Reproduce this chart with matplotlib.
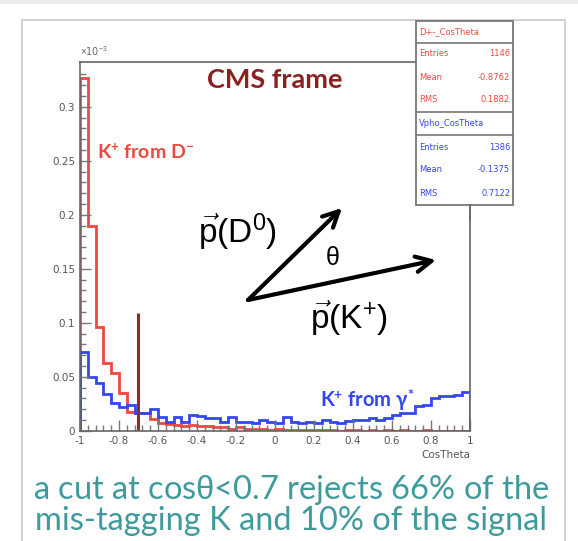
import numpy as np
import matplotlib
matplotlib.use("Agg")
import matplotlib.pyplot as plt
from matplotlib.patches import Rectangle
from matplotlib.lines import Line2D

plt.rcParams['mathtext.fontset'] = 'custom'
plt.rcParams['mathtext.rm'] = 'Liberation Sans'
plt.rcParams['mathtext.it'] = 'Liberation Sans:italic'
plt.rcParams['mathtext.bf'] = 'Lato:bold'

# ---- data (normalised histograms, 50 bins on [-1, 1]) ----
bin_edges = np.linspace(-1.0, 1.0, 51)
kaon_from_D = [0.327, 0.190, 0.096, 0.063, 0.053, 0.035, 0.017, 0.016, 0.016, 0.011,
               0.007, 0.006, 0.005, 0.004, 0.005, 0.004, 0.004, 0.003, 0.003, 0.002,
               0.003, 0.002, 0.002, 0.002, 0.001, 0.002, 0.001, 0.001, 0.001, 0.001,
               0.001, 0.001, 0.001, 0.000, 0.001, 0.001, 0.000, 0.001, 0.000, 0.001,
               0.000, 0.001, 0.000, 0.000, 0.001, 0.000, 0.000, 0.000, 0.000, 0.000]
kaon_from_gamma = [0.073, 0.050, 0.044, 0.034, 0.026, 0.022, 0.024, 0.016, 0.016, 0.020,
                   0.013, 0.008, 0.013, 0.008, 0.015, 0.014, 0.012, 0.012, 0.008, 0.013,
                   0.008, 0.008, 0.007, 0.010, 0.008, 0.007, 0.013, 0.008, 0.007, 0.008,
                   0.007, 0.010, 0.008, 0.007, 0.009, 0.010, 0.010, 0.012, 0.010, 0.012,
                   0.015, 0.016, 0.016, 0.023, 0.024, 0.030, 0.032, 0.032, 0.033, 0.036]
cut_value = -0.7
cut_height = 0.109
x_ticks = [-1, -0.8, -0.6, -0.4, -0.2, 0, 0.2, 0.4, 0.6, 0.8, 1]
x_tick_labels = ['-1', '-0.8', '-0.6', '-0.4', '-0.2', '0', '0.2', '0.4', '0.6', '0.8', '1']
y_ticks = [0, 0.05, 0.1, 0.15, 0.2, 0.25, 0.3]
y_tick_labels = ['0', '0.05', '0.1', '0.15', '0.2', '0.25', '0.3']
stats_red = [('Entries', '1146'), ('Mean', '-0.8762'), ('RMS', '0.1882')]
stats_blue = [('Entries', '1386'), ('Mean', '-0.1375'), ('RMS', '0.7122')]

W, H = 578, 541
fig = plt.figure(figsize=(W / 100, H / 100), dpi=100)
fig.patch.set_facecolor('white')

def fx(px):
    return px / W

def fy(py):
    return 1 - py / H

# outer decoration
fig.patches.append(Rectangle((0, fy(4)), 1, fy(0) - fy(4), transform=fig.transFigure,
                             facecolor='#ececec', edgecolor='none', zorder=0))
fig.patches.append(Rectangle((fx(22), fy(545)), fx(565) - fx(22), fy(20) - fy(545),
                             transform=fig.transFigure, facecolor='none',
                             edgecolor='#c8c8c8', lw=1.2, zorder=0))

ax = fig.add_axes([fx(80), fy(430.7), fx(470) - fx(80), fy(62) - fy(430.7)])
red = '#ec4a3e'
blue = '#3447ee'
ax.stairs(kaon_from_D, bin_edges, color=red, lw=2.0)
ax.stairs(kaon_from_gamma, bin_edges, color=blue, lw=2.0)
ax.vlines(cut_value, 0, cut_height, color='#8e2c2c', lw=2.2)

ax.set_xlim(-1, 1)
ax.set_ylim(0, 0.3415)
ax.set_xticks(x_ticks)
ax.set_xticklabels(x_tick_labels)
ax.set_yticks(y_ticks)
ax.set_yticklabels(y_tick_labels)
ax.set_xticks(np.arange(-1, 1.001, 0.04), minor=True)
ax.set_yticks(np.arange(0, 0.34, 0.01), minor=True)
ax.tick_params(which='both', direction='in', colors='#777777', labelcolor='#555555',
               labelsize=7.5, top=False, right=False)
ax.tick_params(which='major', length=8, width=1)
ax.tick_params(which='minor', length=4, width=1)
for s in ax.spines.values():
    s.set_color('#666666')
    s.set_linewidth(1.2)
ax.text(1.0, -0.065, 'CosTheta', transform=ax.transAxes, ha='right', va='center',
        fontsize=7.5, color='#555555')
ax.text(0.0, 1.01, r'$\times$10$^{-3}$', transform=ax.transAxes, ha='left', va='bottom',
        fontsize=7, color='#666666')

# annotations
fig.text(fx(275), fy(80), 'CMS frame', ha='center', va='center', fontsize=19.5,
         fontweight='bold', color='#8b2222', family='Lato')
fig.text(fx(97), fy(152), r'K$\mathbf{^{+}}$ from D$\mathbf{^{-}}$', ha='left', va='center',
         fontsize=14, fontweight='bold', color=red, family='Lato')
fig.text(fx(320), fy(400), r'K$\mathbf{^{+}}$ from $\mathbf{\gamma^{*}}$', ha='left',
         va='center', fontsize=14.5, fontweight='bold', color=blue, family='Lato')

arrow_kw = dict(arrowstyle='->', lw=3, color='black', mutation_scale=28, shrinkA=0, shrinkB=0)
ax.annotate('', xy=(fx(342), fy(208)), xytext=(fx(248), fy(300)),
            xycoords='figure fraction', textcoords='figure fraction', arrowprops=arrow_kw)
ax.annotate('', xy=(fx(436), fy(260)), xytext=(fx(248), fy(300)),
            xycoords='figure fraction', textcoords='figure fraction', arrowprops=arrow_kw)
fig.text(fx(198), fy(232), r'$\vec{\mathrm{p}}$(D$^{0}$)', ha='left', va='center',
         fontsize=24, color='black', family='Liberation Sans')
fig.text(fx(332), fy(258), r'$\mathrm{\theta}$', ha='center', va='center',
         fontsize=18, color='black', family='DejaVu Sans')
fig.text(fx(310), fy(318), r'$\vec{\mathrm{p}}$(K$^{+}$)', ha='left', va='center',
         fontsize=24, color='black', family='Liberation Sans')

# stats box
bx0, bx1 = 416, 513
rows = [20.7, 42.7, 111.7, 135, 205]
fig.patches.append(Rectangle((fx(bx0), fy(rows[-1])), fx(bx1) - fx(bx0), fy(rows[0]) - fy(rows[-1]),
                             transform=fig.transFigure, facecolor='white',
                             edgecolor='#777777', lw=1.3, zorder=5))
for r in rows[1:-1]:
    fig.lines.append(Line2D([fx(bx0), fx(bx1)], [fy(r), fy(r)], transform=fig.transFigure,
                            color='#777777', lw=1.2, zorder=6))
fig.lines.append(Line2D([fx(470), fx(470)], [fy(205), fy(220)], transform=fig.transFigure,
                        color='#666666', lw=1.2, zorder=6))
stat_fs = 6
fig.text(fx(bx0 + 3), fy(31.7), 'D+-_CosTheta', fontsize=stat_fs, color=red, va='center',
         ha='left', zorder=7)
for i, (k, v) in enumerate(stats_red):
    yy = 54 + i * 23
    fig.text(fx(bx0 + 3), fy(yy), k, fontsize=stat_fs, color=red, va='center', ha='left', zorder=7)
    fig.text(fx(bx1 - 3), fy(yy), v, fontsize=stat_fs, color=red, va='center', ha='right', zorder=7)
fig.text(fx(bx0 + 3), fy(123), 'Vpho_CosTheta', fontsize=stat_fs, color=blue, va='center',
         ha='left', zorder=7)
for i, (k, v) in enumerate(stats_blue):
    yy = 147 + i * 23
    fig.text(fx(bx0 + 3), fy(yy), k, fontsize=stat_fs, color=blue, va='center', ha='left', zorder=7)
    fig.text(fx(bx1 - 3), fy(yy), v, fontsize=stat_fs, color=blue, va='center', ha='right', zorder=7)

# caption
teal = '#3e9a9c'
fig.text(fx(291), fy(490), r'a cut at cos$\mathrm{\theta}$<0.7 rejects 66% of the',
         ha='center', va='center', fontsize=23.5, color=teal, family='Lato')
fig.text(fx(291), fy(521), 'mis-tagging K and 10% of the signal',
         ha='center', va='center', fontsize=23.5, color=teal, family='Lato')

fig.savefig('out.png', dpi=100, facecolor='white')
